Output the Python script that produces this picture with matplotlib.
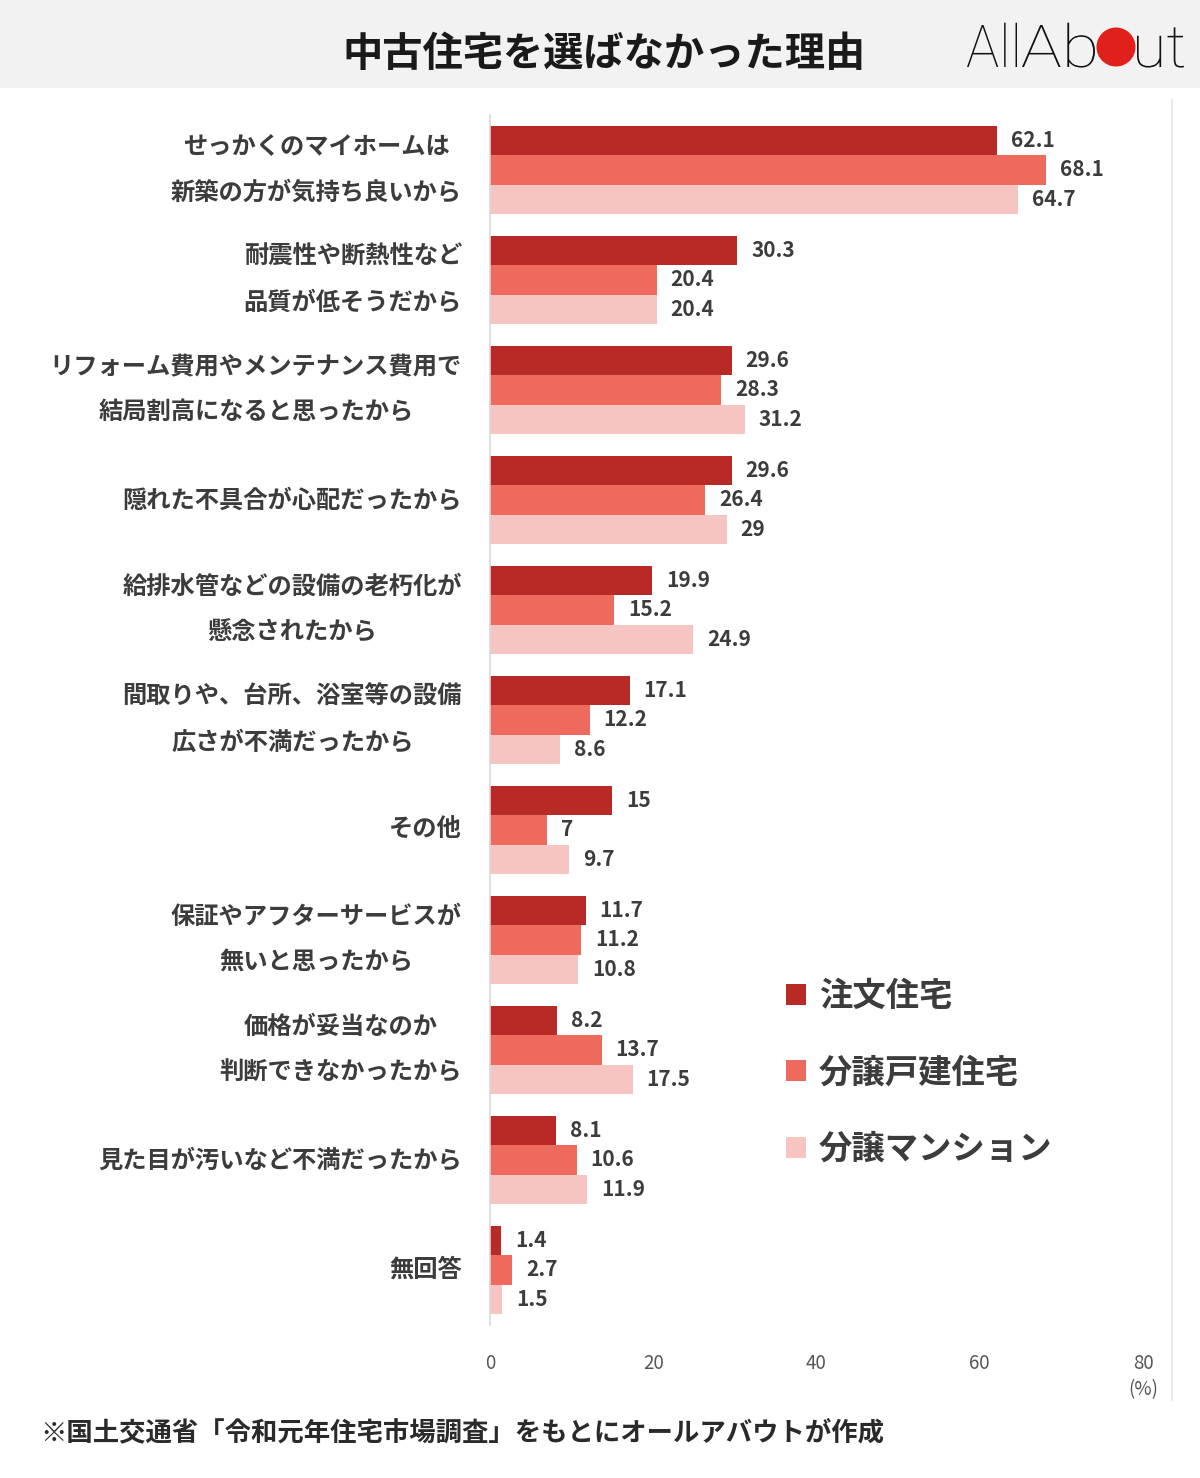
import matplotlib
matplotlib.use("Agg")
from matplotlib import pyplot as plt
from matplotlib.patches import Rectangle, Circle, Patch, PathPatch
from matplotlib.lines import Line2D
from matplotlib.textpath import TextPath
from matplotlib.font_manager import FontProperties
from matplotlib.transforms import Affine2D
import numpy as np

plt.rcParams['font.family'] = ['Noto Sans CJK JP', 'DejaVu Sans']

# data
categories = [
    "せっかくのマイホームは\n新築の方が気持ち良いから",
    "耐震性や断熱性など\n品質が低そうだから",
    "リフォーム費用やメンテナンス費用で\n結局割高になると思ったから",
    "隠れた不具合が心配だったから",
    "給排水管などの設備の老朽化が\n懸念されたから",
    "間取りや、台所、浴室等の設備\n広さが不満だったから",
    "その他",
    "保証やアフターサービスが\n無いと思ったから",
    "価格が妥当なのか\n判断できなかったから",
    "見た目が汚いなど不満だったから",
    "無回答",
]
chumon = [62.1, 30.3, 29.6, 29.6, 19.9, 17.1, 15, 11.7, 8.2, 8.1, 1.4]
bunjo_kodate = [68.1, 20.4, 28.3, 26.4, 15.2, 12.2, 7, 11.2, 13.7, 10.6, 2.7]
bunjo_mansion = [64.7, 20.4, 31.2, 29, 24.9, 8.6, 9.7, 10.8, 17.5, 11.9, 1.5]
series_names = ["注文住宅", "分譲戸建住宅", "分譲マンション"]
xticks = [0, 20, 40, 60, 80]

colors = ["#b72a25", "#ee6a5d", "#f6c5c1"]
txt_gray = "#3c3c3c"

W, H = 1200, 1478
fig = plt.figure(figsize=(W / 100, H / 100), dpi=100)
fig.patch.set_facecolor("white")

# header band
fig.patches.append(Rectangle((0, 1 - 88 / H), 1, 88 / H, transform=fig.transFigure,
                             facecolor="#f2f2f2", edgecolor="none", zorder=0))
fig.text(604 / W, 1 - 55 / H, "中古住宅を選ばなかった理由", ha="center", va="center",
         fontsize=29, fontweight="bold", color="#1a1a1a")


# logo: condensed thin lettering, squeezed into a pixel box
def logo_word(s, x0, x1, base, cap=42):
    fp = FontProperties(family="Roboto", weight="light")
    tp = TextPath((0, 0), s, size=cap / 0.711, prop=fp)
    ext = tp.get_extents()
    sx = (x1 - x0) / ext.width
    tr = Affine2D().translate(-ext.x0, 0).scale(sx, 1).translate(x0, H - base)
    fig.patches.append(PathPatch(tp, transform=tr, facecolor="#111111", edgecolor="none"))


logo_word("All", 967, 1017, 67)
logo_word("Ab", 1022, 1095, 67)
logo_word("ut", 1137, 1184, 67)
fig.patches.append(Circle((1116 / 100, (H - 47) / 100), 0.195, transform=fig.dpi_scale_trans,
                          facecolor="#e1201c", edgecolor="none"))

ax = fig.add_axes([490 / W, 1 - 1325 / H, 653 / W, (1325 - 115) / H])
n = len(categories)
y = np.arange(n)
h = 0.264
for k, vals in enumerate([chumon, bunjo_kodate, bunjo_mansion]):
    bars = ax.barh(y + (k - 1) * h, vals, height=h, color=colors[k], label=series_names[k])
    for b, v in zip(bars, vals):
        ax.annotate(f"{v:g}", (b.get_width(), b.get_y() + b.get_height() / 2),
                    xytext=(10, 0), textcoords="offset points", ha="left", va="center",
                    fontsize=15, fontweight="bold", color=txt_gray)

ax.set_ylim(n - 0.5, -0.5)
ax.set_xlim(0, 80)
ax.set_xticks(xticks)
ax.set_xticklabels([str(t) for t in xticks], fontsize=13.5, color="#555555")
ax.tick_params(axis="x", length=0, pad=20)
ax.set_yticks(y)
ax.set_yticklabels([])
ax.tick_params(axis="y", length=0)
for i, c in enumerate(categories):
    ax.annotate(c, (0, y[i]), xytext=(-28 / 1.389, 0), textcoords="offset points",
                ha="right", va="center", multialignment="center", linespacing=2.15,
                fontsize=17.5, fontweight="bold", color=txt_gray)
for s in ["top", "right", "bottom"]:
    ax.spines[s].set_visible(False)
ax.spines["left"].set_color("#d9d9d9")
ax.spines["left"].set_linewidth(1.2)

fig.text(1143 / W, 1 - 1390 / H, "(%)", ha="center", va="center", fontsize=13.5, color="#555555")

# right frame line
fig.add_artist(Line2D([1172 / W, 1172 / W], [1 - 100 / H, 1 - 1400 / H],
                      transform=fig.transFigure, color="#e3e3e3", linewidth=1.2))

handles = [Patch(facecolor=c, edgecolor="none") for c in colors]
fig.legend(handles, series_names, loc="center left", bbox_to_anchor=(769 / W, 1 - 1073 / H),
           frameon=False, prop={"size": 24, "weight": "bold"}, labelcolor=txt_gray,
           handlelength=0.6, handleheight=0.6, handletextpad=0.4, labelspacing=1.3,
           borderpad=0)

fig.text(40 / W, 1 - 1433 / H, "※国土交通省「令和元年住宅市場調査」をもとにオールアバウトが作成",
         ha="left", va="center", fontsize=19, fontweight="bold", color="#2a2a2a")

fig.savefig("out.png", dpi=100)
